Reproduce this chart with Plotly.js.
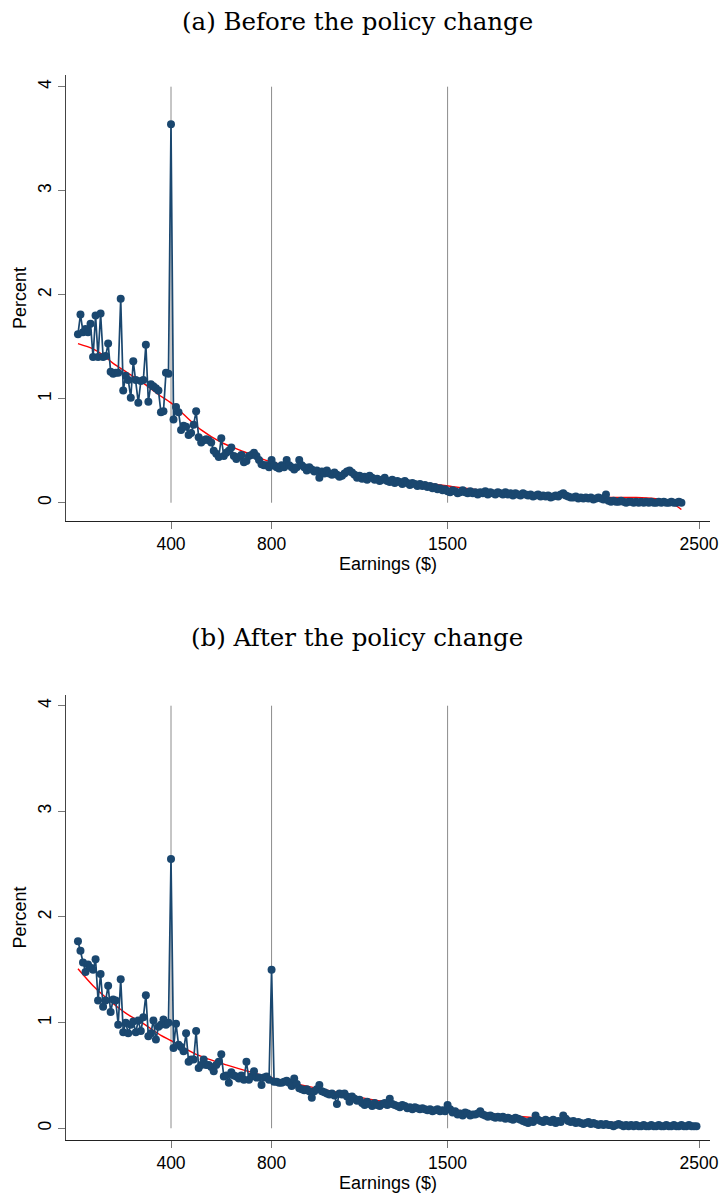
<!DOCTYPE html>
<html>
<head>
<meta charset="utf-8">
<script src="https://cdn.plot.ly/plotly-3.0.1.min.js"></script>
<style>html,body{margin:0;padding:0;background:#fff;}#chart{width:721px;height:1193px;}</style>
</head>
<body>
<div id="chart"></div>
<script>
// Earnings bins ($)
const earnings = [
  30,40,50,60,70,80,90,100,
  110,120,130,140,150,160,170,180,190,200,
  210,220,230,240,250,260,270,280,290,300,
  310,320,330,340,350,360,370,380,390,400,
  410,420,430,440,450,460,470,480,490,500,
  510,520,530,540,550,560,570,580,590,600,
  610,620,630,640,650,660,670,680,690,700,
  710,720,730,740,750,760,770,780,790,800,
  810,820,830,840,850,860,870,880,890,900,
  910,920,930,940,950,960,970,980,990,1000,
  1010,1020,1030,1040,1050,1060,1070,1080,1090,1100,
  1110,1120,1130,1140,1150,1160,1170,1180,1190,1200,
  1210,1220,1230,1240,1250,1260,1270,1280,1290,1300,
  1310,1320,1330,1340,1350,1360,1370,1380,1390,1400,
  1410,1420,1430,1440,1450,1460,1470,1480,1490,1500,
  1510,1520,1530,1540,1550,1560,1570,1580,1590,1600,
  1610,1620,1630,1640,1650,1660,1670,1680,1690,1700,
  1710,1720,1730,1740,1750,1760,1770,1780,1790,1800,
  1810,1820,1830,1840,1850,1860,1870,1880,1890,1900,
  1910,1920,1930,1940,1950,1960,1970,1980,1990,2000,
  2010,2020,2030,2040,2050,2060,2070,2080,2090,2100,
  2110,2120,2130,2140,2150,2160,2170,2180,2190,2200,
  2210,2220,2230,2240,2250,2260,2270,2280,2290,2300,
  2310,2320,2330,2340,2350,2360,2370,2380,2390,2400,
  2410,2420,2430,2440,2450,2460,2470,2480,2490
];

// (a) Before the policy change: percent of earners per bin
const before = [
  1.62,1.81,1.64,1.67,1.64,1.72,1.40,1.80,
  1.40,1.82,1.40,1.41,1.53,1.26,1.24,1.25,1.25,1.96,
  1.08,1.22,1.18,1.01,1.36,1.18,0.96,1.17,1.18,1.52,
  0.97,1.14,1.12,1.10,1.08,0.87,0.88,1.25,1.24,3.64,
  0.80,0.92,0.87,0.70,0.74,0.73,0.65,0.67,0.75,0.88,
  0.63,0.58,0.60,0.61,0.60,0.58,0.50,0.47,0.44,0.62,
  0.45,0.48,0.50,0.53,0.45,0.42,0.44,0.46,0.39,0.40,
  0.45,0.46,0.48,0.45,0.41,0.37,0.36,0.36,0.34,0.41,
  0.36,0.34,0.33,0.36,0.34,0.41,0.36,0.34,0.32,0.34,
  0.41,0.36,0.34,0.31,0.34,0.32,0.30,0.31,0.24,0.30,
  0.28,0.31,0.28,0.27,0.29,0.27,0.25,0.26,0.28,0.30,
  0.31,0.29,0.27,0.24,0.26,0.23,0.25,0.22,0.26,0.24,
  0.22,0.23,0.21,0.22,0.24,0.21,0.20,0.22,0.19,0.21,
  0.20,0.18,0.21,0.19,0.17,0.19,0.18,0.16,0.18,0.16,
  0.17,0.15,0.16,0.14,0.15,0.13,0.14,0.12,0.13,0.11,
  0.10,0.12,0.11,0.09,0.10,0.12,0.10,0.09,0.11,0.09,
  0.10,0.08,0.10,0.09,0.11,0.08,0.10,0.09,0.08,0.10,
  0.09,0.08,0.10,0.08,0.09,0.07,0.09,0.08,0.07,0.09,
  0.08,0.07,0.08,0.06,0.07,0.08,0.06,0.07,0.06,0.07,
  0.05,0.06,0.07,0.06,0.08,0.09,0.07,0.06,0.05,0.05,
  0.06,0.04,0.05,0.04,0.05,0.04,0.05,0.03,0.04,0.05,
  0.04,0.03,0.08,0.02,0.01,0.02,0.01,0.01,0.02,0.01,
  0.00,0.01,0.01,0.00,0.01,0.00,0.01,0.00,0.01,0.00,
  0.01,0.00,0.00,0.01,0.00,0.01,0.00,0.00,0.01,0.00,
  0.00,0.01,0.00
];

// (b) After the policy change
const after = [
  1.77,1.68,1.57,1.48,1.55,1.52,1.50,1.60,
  1.21,1.46,1.15,1.21,1.35,1.10,1.22,1.21,0.98,1.41,
  0.91,1.00,0.90,0.98,1.01,0.91,1.02,0.92,1.05,1.26,
  0.87,0.90,1.02,0.84,0.96,0.98,1.03,0.98,1.00,2.55,
  0.76,0.99,0.79,0.77,0.73,0.90,0.63,0.65,0.65,0.92,
  0.57,0.60,0.65,0.60,0.60,0.58,0.54,0.60,0.63,0.70,
  0.49,0.50,0.43,0.53,0.50,0.49,0.47,0.50,0.46,0.63,
  0.46,0.49,0.54,0.48,0.48,0.41,0.48,0.49,0.46,1.50,
  0.44,0.44,0.43,0.43,0.44,0.45,0.43,0.40,0.47,0.42,
  0.38,0.37,0.36,0.37,0.35,0.29,0.35,0.37,0.41,0.35,
  0.34,0.33,0.32,0.33,0.31,0.23,0.33,0.32,0.33,0.30,
  0.25,0.30,0.28,0.26,0.27,0.24,0.22,0.25,0.23,0.21,
  0.24,0.22,0.21,0.23,0.24,0.22,0.28,0.23,0.22,0.21,
  0.20,0.22,0.21,0.19,0.20,0.18,0.20,0.19,0.18,0.19,
  0.18,0.17,0.18,0.16,0.17,0.18,0.16,0.17,0.16,0.22,
  0.18,0.15,0.16,0.13,0.14,0.12,0.15,0.14,0.12,0.13,
  0.13,0.14,0.16,0.13,0.12,0.11,0.12,0.11,0.10,0.11,
  0.10,0.11,0.09,0.10,0.09,0.08,0.10,0.09,0.08,0.07,
  0.06,0.05,0.07,0.06,0.12,0.08,0.07,0.06,0.08,0.07,
  0.06,0.08,0.05,0.07,0.06,0.12,0.09,0.07,0.06,0.07,
  0.05,0.06,0.05,0.04,0.05,0.06,0.04,0.05,0.04,0.03,
  0.04,0.03,0.04,0.03,0.03,0.02,0.03,0.04,0.03,0.02,
  0.03,0.02,0.03,0.02,0.03,0.02,0.02,0.03,0.02,0.02,
  0.03,0.02,0.02,0.03,0.02,0.02,0.03,0.02,0.02,0.03,
  0.02,0.02,0.03,0.02,0.02,0.03,0.02,0.02,0.02
];

// Fitted counterfactual (red line)
const fitBeforeX = [30,90,130,170,220,290,350,400,450,520,600,690,800,900,1000,1100,1180,1320,1420,1520,1600,1800,2000,2150,2250,2320,2380,2410,2430];
const fitBeforeY = [1.53,1.48,1.42,1.34,1.26,1.15,1.04,0.96,0.85,0.70,0.58,0.49,0.39,0.35,0.31,0.28,0.25,0.20,0.185,0.155,0.13,0.09,0.06,0.05,0.05,0.04,0.01,-0.03,-0.065];
const fitAfterX = [30,90,160,220,290,360,400,500,620,750,880,980,1100,1200,1350,1500,1700,1900,2100,2300,2490];
const fitAfterY = [1.51,1.35,1.20,1.09,0.99,0.88,0.83,0.70,0.60,0.51,0.43,0.38,0.32,0.27,0.22,0.18,0.13,0.09,0.06,0.04,0.02];

// Thresholds (vertical reference lines) and tick labels
const thresholdsBefore = [400, 800, 1500];
const thresholdsAfter = [400, 800, 1500];
const xTicks = [400, 800, 1500, 2500];
const yTicks = [0, 1, 2, 3, 4];
const panelTitles = ['(a) Before the policy change', '(b) After the policy change'];

const navy = '#1a476f';
const tickFont = {family: 'Liberation Sans, Arial, sans-serif', size: 17.5, color: '#000'};
const titleFont = {family: 'Liberation Sans, Arial, sans-serif', size: 18, color: '#000'};

function dataTrace(xs, ys, xa, ya) {
  return {x: xs.slice(0, ys.length), y: ys, xaxis: xa, yaxis: ya, type: 'scatter', mode: 'lines+markers',
    line: {color: navy, width: 1.7}, marker: {color: navy, size: 8}, hoverinfo: 'skip', showlegend: false};
}
function fitTrace(xs, ys, xa, ya) {
  return {x: xs, y: ys, xaxis: xa, yaxis: ya, type: 'scatter', mode: 'lines',
    line: {color: '#ff0000', width: 1.4, shape: 'spline', smoothing: 0.8}, hoverinfo: 'skip', showlegend: false};
}

const traces = [
  fitTrace(fitBeforeX, fitBeforeY, 'x2', 'y2'),
  dataTrace(earnings, before, 'x2', 'y2'),
  fitTrace(fitAfterX, fitAfterY, 'x', 'y'),
  dataTrace(earnings, after, 'x', 'y')
];

function vlines(ts, xr, yr) {
  return ts.map(t => ({type: 'line', xref: xr, yref: yr, x0: t, x1: t, y0: yTicks[0], y1: yTicks[yTicks.length - 1],
    line: {color: '#8c8c8c', width: 1}, layer: 'below'}));
}

function xAxis(anchor) {
  return {anchor: anchor, domain: [0, 1], range: [-17.6, 2543.7], tickmode: 'array', tickvals: xTicks,
    ticktext: xTicks.map(String), showgrid: false, zeroline: false, showline: true, linecolor: '#222', linewidth: 1,
    ticks: 'outside', ticklen: 7, tickcolor: '#777', tickwidth: 1, tickfont: tickFont,
    title: {text: 'Earnings ($)', font: titleFont, standoff: 1}, automargin: false};
}
function yAxis(anchor, domain, range) {
  return {anchor: anchor, domain: domain, range: range, tickmode: 'array', tickvals: yTicks, ticktext: yTicks.map(String),
    tickangle: -90, showgrid: false, zeroline: false, showline: true, linecolor: '#444', linewidth: 1,
    ticks: 'outside', ticklen: 7, tickcolor: '#777', tickwidth: 1, tickfont: tickFont,
    title: {text: 'Percent', font: titleFont, standoff: 3}, automargin: false};
}

const layout = {
  width: 721, height: 1193, paper_bgcolor: '#fff', plot_bgcolor: '#fff',
  margin: {l: 66, r: 11, t: 75, b: 53},
  showlegend: false,
  xaxis: xAxis('y'),
  yaxis: yAxis('x', [0, 0.4178], [-0.111, 4.101]),
  xaxis2: xAxis('y2'),
  yaxis2: yAxis('x2', [0.5812, 1], [-0.176, 4.1125]),
  shapes: vlines(thresholdsBefore, 'x2', 'y2').concat(vlines(thresholdsAfter, 'x', 'y')),
  annotations: [
    {text: panelTitles[0], xref: 'paper', yref: 'paper', x: 0.452, y: 1.0505, xanchor: 'center', yanchor: 'middle',
     showarrow: false, font: {family: 'DejaVu Serif, serif', size: 24.5, color: '#000'}},
    {text: panelTitles[1], xref: 'paper', yref: 'paper', x: 0.452, y: 0.4723, xanchor: 'center', yanchor: 'middle',
     showarrow: false, font: {family: 'DejaVu Serif, serif', size: 24.5, color: '#000'}}
  ]
};

Plotly.newPlot('chart', traces, layout, {staticPlot: true, displayModeBar: false});
</script>
</body>
</html>
